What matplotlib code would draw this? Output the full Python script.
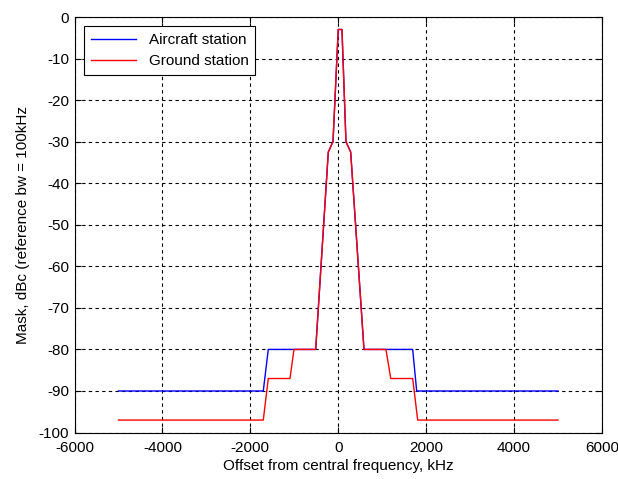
import numpy as np
import matplotlib
matplotlib.use("Agg")
import matplotlib.pyplot as plt

plt.rcParams['font.family'] = ['Liberation Sans', 'DejaVu Sans']
plt.rcParams['axes.unicode_minus'] = False

# Spectrum mask breakpoints (kHz, dBc)
ground_f = [-5000, -1705, -1592, -1098, -1007, -513, -226, -119, 0, 85,
            176, 283, 586, 1086, 1195, 1694, 1808, 5000]
ground_db = [-97, -97, -87, -87, -80, -80, -32.5, -30, -3, -3,
             -30, -32.5, -80, -80, -87, -87, -97, -97]

aircraft_f = [-5000, -1705, -1592, -513, -226, -119, 0, 85,
              176, 283, 586, 1694, 1785, 5000]
aircraft_db = [-90, -90, -80, -80, -32.5, -30, -3, -3,
               -30, -32.5, -80, -80, -90, -90]

xticks = np.arange(-6000, 6001, 2000)
yticks = np.arange(-100, 1, 10)

fig = plt.figure(figsize=(6.18, 4.79), dpi=100)
ax = fig.add_axes([0.1206, 0.097, 0.8534, 0.8675])

ax.plot(aircraft_f, aircraft_db, color="blue", lw=1, label="Aircraft station")
ax.plot(ground_f, ground_db, color="red", lw=1, label="Ground station")

ax.set_xlim(-6000, 6000)
ax.set_ylim(-100, 0)
ax.set_xticks(xticks)
ax.set_yticks(yticks)
ax.tick_params(direction="in", top=True, right=True, length=4, labelsize=11)
ax.tick_params(axis="x", pad=6)
ax.tick_params(axis="y", pad=4)
ax.grid(True, color="black", linestyle=(0, (3, 3)), lw=0.8)
for s in ax.spines.values():
    s.set_linewidth(0.8)

ax.set_xlabel("Offset from central frequency, kHz", fontsize=11, labelpad=3)
ax.set_ylabel("Mask, dBc (reference bw = 100kHz", fontsize=11, labelpad=6)

leg = ax.legend(loc="upper left", fontsize=11, fancybox=False, framealpha=1,
                edgecolor="black", borderaxespad=0.6, handlelength=3.0,
                labelspacing=0.45, borderpad=0.45)
leg.get_frame().set_linewidth(0.8)

fig.savefig("out.png", dpi=100)
